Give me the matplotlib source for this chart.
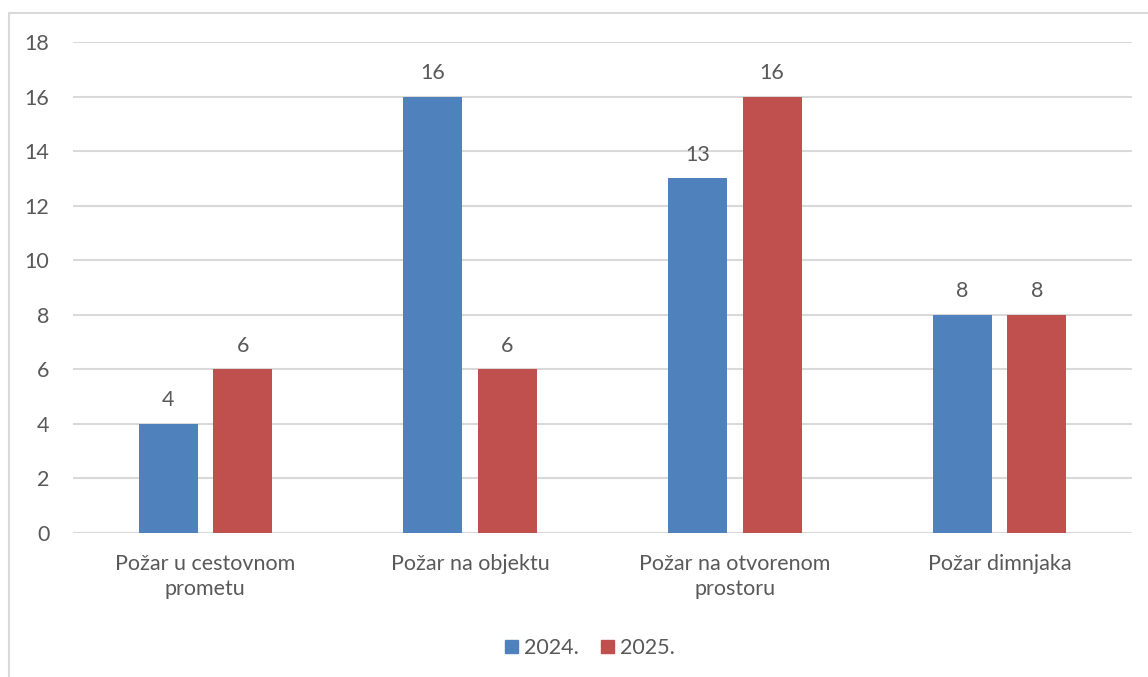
import numpy as np
import matplotlib.pyplot as plt
from matplotlib.patches import Rectangle, Patch

categories = ["Požar u cestovnom\nprometu", "Požar na objektu",
              "Požar na otvorenom\nprostoru", "Požar dimnjaka"]
years = ["2024.", "2025."]
values_2024 = [4, 16, 13, 8]
values_2025 = [6, 6, 16, 8]

colors = ["#4F81BD", "#C0504D"]
text_color = "#595959"
fs = 15.5

plt.rcParams['font.family'] = ['Lato', 'DejaVu Sans']

fig = plt.figure(figsize=(11.48, 6.77), dpi=100)
ax = fig.add_axes([73 / 1148, 1 - 533 / 677, (1132 - 73) / 1148, (533 - 42) / 677])

# chart border (only top and left visible in the reference)
fig.patches.append(Rectangle((9 / 1148, -0.1), 1.2, 1 - 13 / 677 + 0.1,
                             transform=fig.transFigure, fill=False,
                             edgecolor="#D9D9D9", linewidth=1.5))

x = np.arange(len(categories))
w = 0.223
off = w / 2 + 0.029
b1 = ax.bar(x - off, values_2024, w, color=colors[0], zorder=3)
b2 = ax.bar(x + off, values_2025, w, color=colors[1], zorder=3)

for bars in (b1, b2):
    for r in bars:
        ax.text(r.get_x() + r.get_width() / 2, r.get_height() + 0.5,
                f"{int(r.get_height())}", ha="center", va="bottom",
                fontsize=fs, color=text_color)

ax.set_xlim(-0.5, len(categories) - 0.5)
ax.set_ylim(0, 18)
ax.set_yticks(range(0, 19, 2))
ax.yaxis.grid(True, color="#D9D9D9", linewidth=1.5, zorder=0)
ax.set_axisbelow(True)
for s in ax.spines.values():
    s.set_visible(False)
ax.axhline(0, color="#D9D9D9", linewidth=1.5, zorder=2)

ax.set_xticks(x)
ax.set_xticklabels(categories, fontsize=fs, color=text_color, linespacing=1.3)
ax.tick_params(axis="x", length=0, pad=15)
ax.tick_params(axis="y", length=0, pad=17, labelsize=fs, labelcolor=text_color)

handles = [Patch(color=c) for c in colors]
fig.legend(handles, years, loc="center", bbox_to_anchor=(0.514, 1 - 648 / 677),
           ncol=2, frameon=False, fontsize=fs, labelcolor=text_color,
           handlelength=0.6, handleheight=0.6, handletextpad=0.3, columnspacing=1.0)

fig.savefig("out.png", dpi=100)
